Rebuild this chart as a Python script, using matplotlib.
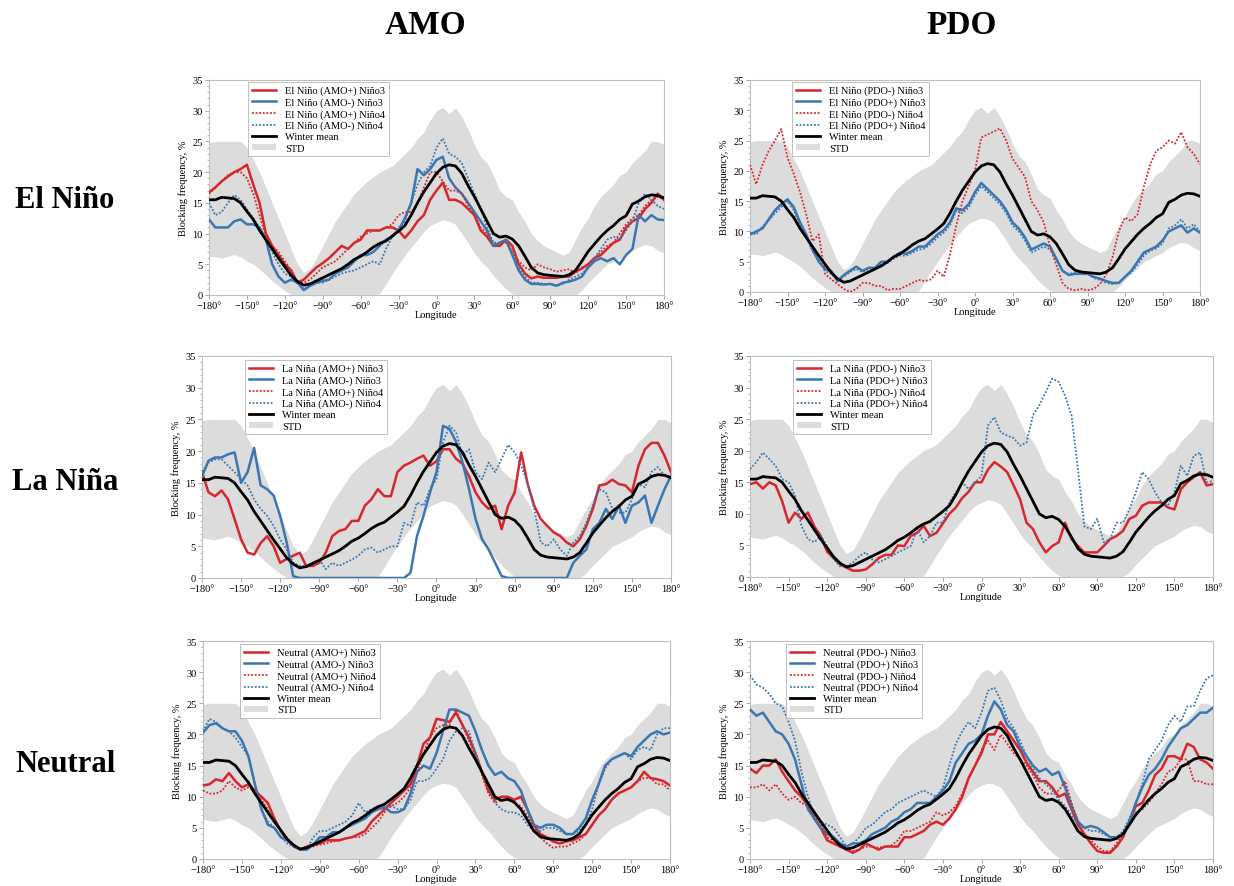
import numpy as np
import matplotlib
matplotlib.use('Agg')
import matplotlib.pyplot as plt
from matplotlib.lines import Line2D
from matplotlib.patches import Patch
from matplotlib.ticker import MultipleLocator, FuncFormatter

plt.rcParams['font.family'] = ['Liberation Serif', 'DejaVu Serif']

# ---------------- data ----------------
longitude = np.arange(-180, 181, 5)

winter_mean = [15.5, 15.5, 15.9, 15.8, 15.7, 15.0, 13.6, 12.3, 10.5, 9.0, 7.5, 6.0,
               4.6, 3.2, 2.2, 1.6, 1.8, 2.3, 2.8, 3.3, 3.8, 4.3, 5.0, 5.8,
               6.3, 7.0, 7.8, 8.4, 8.8, 9.6, 10.4, 11.3, 13.0, 15.0, 16.8, 18.3,
               19.8, 20.8, 21.2, 21.0, 19.8, 17.8, 16.0, 14.0, 12.0, 10.0, 9.4, 9.6,
               9.1, 8.0, 6.3, 4.5, 3.6, 3.3, 3.2, 3.1, 3.0, 3.3, 4.0, 5.5,
               7.1, 8.3, 9.5, 10.5, 11.3, 12.3, 12.9, 14.8, 15.3, 16.0, 16.3, 16.2,
               15.8]
std_upper = [24.8, 25.0, 25.0, 25.0, 25.0, 25.0, 24.0, 22.0, 20.0, 17.5, 15.0, 12.5,
             10.0, 7.5, 5.0, 3.7, 4.3, 6.0, 8.0, 10.0, 12.0, 13.5, 15.0, 16.5,
             17.5, 18.5, 19.2, 20.0, 20.5, 21.0, 22.0, 23.0, 24.0, 25.5, 26.5, 28.5,
             30.0, 30.5, 29.5, 30.5, 29.0, 27.0, 24.5, 22.5, 21.5, 19.5, 17.0, 16.0,
             15.5, 13.5, 12.0, 10.0, 8.8, 8.0, 7.5, 7.0, 6.5, 7.0, 9.0, 11.0,
             12.5, 14.5, 16.0, 17.0, 18.0, 19.5, 20.0, 21.5, 22.5, 23.5, 25.0, 25.0,
             24.5]
std_lower = [6.3, 6.2, 6.0, 6.3, 6.6, 6.2, 5.5, 5.0, 4.2, 3.3, 2.3, 1.5,
             0.7, 0.1, 0.0, 0.0, 0.0, 0.0, 0.0, 0.0, 0.0, 0.0, 0.0, 0.0,
             0.0, 0.0, 0.0, 0.2, 1.8, 3.5, 5.0, 6.5, 7.8, 9.0, 10.3, 11.3,
             11.8, 12.2, 12.0, 11.5, 10.0, 8.5, 6.8, 5.5, 4.5, 3.2, 2.0, 1.0,
             0.2, 0.0, 0.0, 0.0, 0.0, 0.0, 0.0, 0.0, 0.0, 0.0, 0.0, 0.8,
             2.0, 3.0, 4.0, 5.0, 5.5, 6.0, 6.5, 7.3, 7.8, 8.2, 8.0, 7.3,
             6.8]

# El Nino, AMO
amo_en_pos_n3 = [16.7, 17.5, 18.5, 19.3, 20.0, 20.5, 21.2, 18.0, 15.0, 10.0, 8.0, 6.5,
                 5.0, 4.0, 2.0, 2.5, 3.5, 4.5, 5.2, 6.0, 7.0, 8.0, 7.5, 8.5,
                 9.0, 10.5, 10.5, 10.5, 11.0, 11.0, 10.5, 9.3, 10.5, 12.0, 13.0, 15.5,
                 17.0, 18.3, 15.5, 15.5, 15.0, 14.0, 13.0, 10.5, 9.5, 8.0, 8.0, 9.0,
                 8.0, 5.0, 3.5, 2.7, 3.0, 2.8, 2.8, 2.8, 3.0, 3.0, 3.8, 4.3,
                 5.0, 6.0, 6.5, 7.5, 8.5, 9.0, 11.0, 12.0, 12.5, 14.0, 15.0, 16.5,
                 15.5]
amo_en_neg_n3 = [12.3, 11.0, 11.0, 11.0, 12.0, 12.3, 11.5, 11.5, 11.0, 9.0, 5.0, 3.0,
                 2.0, 2.5, 2.0, 0.8, 1.5, 2.0, 2.3, 2.5, 3.5, 4.0, 4.5, 5.5,
                 6.5, 6.5, 7.0, 8.0, 9.0, 9.5, 10.5, 12.5, 15.0, 20.5, 19.5, 20.5,
                 22.0, 22.5, 19.0, 17.5, 16.5, 15.0, 13.5, 12.0, 10.5, 8.0, 8.5, 9.0,
                 6.5, 4.0, 2.5, 1.8, 1.8, 1.7, 1.8, 1.5, 2.0, 2.2, 2.5, 3.0,
                 4.5, 5.5, 6.0, 5.5, 6.0, 5.0, 6.5, 7.5, 13.0, 12.0, 13.0, 12.3,
                 12.2]
amo_en_pos_n4 = [16.5, 17.5, 18.5, 19.5, 20.0, 20.0, 19.0, 16.5, 13.0, 9.5, 8.0, 7.0,
                 5.5, 4.0, 2.0, 2.0, 2.5, 3.5, 4.5, 5.0, 5.5, 6.5, 7.5, 8.5,
                 9.5, 10.0, 10.5, 10.5, 11.0, 11.5, 13.0, 13.5, 13.5, 15.0, 17.5, 20.0,
                 20.0, 18.5, 17.0, 17.0, 16.5, 14.5, 13.0, 11.0, 10.0, 8.5, 8.5, 8.5,
                 7.0, 5.5, 4.5, 4.0, 5.0, 4.5, 4.2, 3.8, 4.0, 4.2, 3.5, 4.5,
                 5.0, 6.0, 7.0, 8.0, 8.5, 10.0, 11.5, 12.5, 13.0, 14.5, 15.5, 16.0,
                 15.5]
amo_en_neg_n4 = [15.0, 13.0, 13.5, 15.0, 16.3, 15.5, 14.0, 12.5, 11.0, 9.0, 7.0, 5.0,
                 3.5, 3.0, 2.0, 1.0, 1.5, 2.0, 2.0, 2.5, 3.0, 3.5, 3.8, 4.0,
                 4.5, 5.0, 5.5, 5.0, 7.5, 9.5, 11.0, 12.0, 15.0, 18.0, 20.0, 21.0,
                 24.0, 25.5, 23.0, 22.5, 21.5, 19.0, 16.5, 14.0, 11.0, 8.5, 8.5, 9.0,
                 7.0, 4.5, 3.0, 2.0, 2.0, 1.8, 1.8, 1.5, 1.8, 2.5, 3.0, 3.5,
                 4.5, 6.0, 7.5, 9.0, 9.5, 9.0, 10.5, 12.0, 15.0, 16.5, 15.5, 14.5,
                 14.0]

# El Nino, PDO
pdo_en_neg_n3 = []
pdo_en_pos_n3 = [9.5, 10.0, 10.5, 12.0, 13.5, 14.5, 15.3, 14.0, 11.5, 9.5, 7.0, 5.0,
                 3.8, 3.5, 1.8, 2.8, 3.5, 4.2, 3.5, 4.0, 4.0, 5.0, 5.0, 5.8,
                 6.5, 6.3, 6.8, 7.5, 7.5, 8.5, 9.5, 10.2, 11.5, 13.8, 13.5, 14.5,
                 16.5, 18.0, 17.0, 16.0, 15.0, 13.5, 11.5, 10.5, 9.0, 7.0, 7.5, 8.0,
                 7.5, 5.5, 3.5, 2.8, 3.0, 3.0, 3.0, 2.5, 2.2, 1.8, 1.5, 1.5,
                 2.5, 3.5, 5.0, 6.5, 7.0, 7.5, 8.5, 10.0, 10.5, 11.0, 9.8, 10.5,
                 9.8]
pdo_en_neg_n4 = [21.0, 17.8, 21.0, 23.3, 25.0, 26.9, 22.2, 19.5, 16.5, 12.8, 8.4, 9.5,
                 3.0, 2.1, 1.3, 0.5, 0.0, 0.5, 1.5, 1.5, 1.0, 1.0, 0.3, 0.5,
                 0.5, 1.0, 1.5, 2.0, 1.8, 2.1, 3.5, 2.5, 6.2, 11.0, 15.0, 17.5,
                 20.0, 25.5, 26.0, 26.5, 27.0, 25.0, 22.0, 20.5, 19.0, 15.0, 13.5, 11.5,
                 7.5, 4.5, 1.5, 0.5, 0.3, 0.5, 0.3, 0.5, 1.3, 2.9, 5.7, 10.0,
                 12.3, 11.7, 12.8, 17.3, 21.0, 23.3, 23.9, 25.0, 24.5, 26.4, 23.9, 22.8,
                 21.1]
pdo_en_pos_n4 = [9.8, 9.5, 10.8, 11.8, 13.0, 14.0, 15.0, 13.5, 11.0, 9.0, 6.8, 5.5,
                 3.5, 3.0, 2.0, 2.5, 3.3, 3.8, 3.3, 3.8, 4.0, 4.5, 4.8, 5.5,
                 6.0, 6.0, 6.5, 7.0, 7.2, 8.0, 9.0, 9.8, 11.0, 13.5, 13.0, 14.0,
                 16.0, 17.5, 16.5, 15.5, 14.5, 13.0, 11.0, 10.0, 8.5, 6.5, 7.0, 7.5,
                 7.0, 5.5, 3.5, 3.0, 3.2, 3.2, 3.0, 2.3, 2.0, 1.5, 1.3, 1.5,
                 2.5, 3.2, 4.5, 6.0, 6.8, 7.2, 8.0, 10.5, 11.0, 12.0, 10.5, 11.2,
                 10.0]

# La Nina, AMO
amo_ln_pos_n3 = [16.7, 13.5, 12.9, 13.8, 12.4, 9.3, 6.1, 4.0, 3.7, 5.5, 6.6, 5.0,
                 2.4, 3.0, 3.5, 4.0, 1.9, 1.9, 2.4, 4.0, 6.6, 7.4, 7.7, 9.0,
                 9.0, 11.4, 12.4, 14.0, 12.9, 12.9, 16.7, 17.7, 18.2, 18.8, 19.3, 17.7,
                 18.4, 20.3, 20.3, 18.8, 18.0, 16.0, 13.5, 11.9, 10.9, 11.4, 7.7, 11.4,
                 13.5, 19.8, 14.8, 11.4, 9.3, 8.2, 7.2, 6.6, 5.6, 5.0, 6.1, 8.2,
                 10.9, 14.6, 14.8, 15.5, 14.8, 14.6, 13.5, 17.7, 20.3, 21.3, 21.3, 19.3,
                 16.7]
amo_ln_neg_n3 = [16.0, 18.5, 19.0, 19.0, 19.5, 19.8, 15.0, 16.7, 20.5, 14.6, 14.0, 13.0,
                 9.8, 5.6, 0.3, 0.0, 0.0, 0.0, 0.0, 0.0, 0.0, 0.0, 0.0, 0.0,
                 0.0, 0.0, 0.0, 0.0, 0.0, 0.0, 0.0, 0.0, 0.8, 6.6, 9.8, 13.5,
                 16.7, 24.0, 23.5, 21.5, 18.2, 14.0, 9.3, 6.1, 4.5, 2.4, 0.3, 0.0,
                 0.0, 0.0, 0.0, 0.0, 0.0, 0.0, 0.0, 0.0, 0.0, 2.4, 3.5, 4.5,
                 7.7, 8.7, 10.9, 9.3, 11.4, 8.7, 11.4, 11.9, 13.0, 8.7, 11.4, 14.0,
                 16.1]
amo_ln_pos_n4 = []
amo_ln_neg_n4 = [16.7, 18.2, 18.7, 18.7, 17.7, 16.7, 15.6, 14.6, 12.4, 10.9, 9.8, 8.2,
                 6.1, 4.5, 2.4, 1.9, 1.9, 2.4, 2.9, 1.4, 2.4, 1.9, 2.4, 2.9,
                 3.5, 4.5, 4.8, 4.0, 4.5, 5.0, 5.0, 8.7, 8.2, 11.9, 11.4, 14.0,
                 15.6, 21.4, 24.0, 23.0, 19.3, 20.3, 16.7, 15.6, 18.2, 16.7, 18.8, 21.0,
                 19.8, 17.7, 14.8, 10.9, 5.6, 5.0, 6.1, 4.5, 3.5, 5.6, 6.6, 8.7,
                 11.4, 14.0, 13.5, 10.9, 10.3, 10.3, 12.4, 14.8, 14.3, 16.7, 17.5, 16.1,
                 16.1]

# La Nina, PDO
pdo_ln_neg_n3 = [14.7, 15.0, 14.0, 15.0, 14.5, 12.0, 8.6, 10.2, 9.2, 10.2, 8.0, 6.5,
                 4.0, 3.0, 2.0, 1.5, 1.0, 1.0, 1.2, 2.0, 3.0, 3.5, 3.5, 5.0,
                 4.9, 6.5, 7.0, 8.1, 6.5, 7.0, 8.5, 10.0, 11.0, 12.5, 13.5, 15.0,
                 15.0, 17.0, 18.2, 17.5, 16.6, 14.5, 12.3, 8.6, 7.6, 5.5, 3.9, 4.9,
                 5.5, 8.6, 6.0, 4.9, 3.9, 3.9, 3.9, 4.9, 6.0, 6.5, 7.3, 9.2,
                 9.7, 11.3, 11.8, 11.8, 11.8, 11.0, 10.7, 13.9, 15.0, 15.8, 16.6, 14.5,
                 14.7]
pdo_ln_pos_n3 = []
pdo_ln_neg_n4 = []
pdo_ln_pos_n4 = [17.1, 18.2, 19.7, 18.7, 17.6, 15.5, 15.0, 12.9, 8.1, 6.0, 5.5, 6.5,
                 4.9, 2.8, 1.7, 1.7, 2.3, 3.3, 3.9, 2.8, 2.3, 2.8, 3.3, 3.9,
                 4.4, 4.9, 7.6, 5.5, 6.5, 8.6, 8.6, 11.8, 13.4, 15.0, 13.9, 15.0,
                 16.0, 24.0, 25.3, 22.9, 22.4, 22.0, 20.8, 21.3, 25.6, 27.2, 29.3, 31.4,
                 30.9, 28.7, 25.6, 17.0, 8.0, 7.6, 9.2, 5.5, 6.0, 8.6, 8.6, 10.7,
                 13.4, 16.6, 15.5, 13.4, 11.8, 11.3, 13.4, 17.6, 16.0, 19.2, 19.7, 15.0,
                 15.2]

# Neutral, AMO
amo_neu_pos_n3 = [11.8, 12.0, 12.8, 12.5, 13.8, 12.5, 11.5, 12.0, 11.0, 10.0, 9.0, 6.5,
                  4.5, 3.0, 2.2, 1.5, 2.0, 2.3, 2.5, 3.0, 3.0, 3.0, 3.3, 3.5,
                  4.0, 4.5, 6.0, 7.0, 8.0, 9.0, 10.0, 11.0, 12.0, 15.0, 18.5, 19.5,
                  22.5, 22.3, 22.0, 23.5, 21.5, 19.5, 17.0, 14.0, 11.0, 9.5, 10.0, 10.0,
                  9.5, 10.0, 8.0, 5.5, 4.0, 3.5, 2.8, 2.5, 2.8, 3.0, 3.5, 4.0,
                  5.5, 7.0, 8.0, 9.5, 10.5, 11.0, 11.5, 12.5, 14.0, 13.0, 12.8, 12.5,
                  11.8]
amo_neu_neg_n3 = [20.3, 21.5, 21.8, 21.0, 20.5, 20.5, 19.0, 16.5, 12.0, 8.0, 5.5, 5.0,
                  3.5, 3.0, 2.0, 1.5, 1.5, 2.3, 3.5, 3.5, 4.3, 4.3, 5.0, 5.5,
                  6.0, 6.5, 7.5, 8.0, 8.3, 7.5, 7.5, 8.0, 10.5, 14.0, 15.0, 14.5,
                  17.0, 20.5, 24.0, 24.0, 23.5, 23.0, 20.5, 17.5, 15.0, 13.5, 14.0, 13.0,
                  12.5, 11.0, 8.0, 5.5, 5.0, 5.5, 5.5, 5.0, 4.0, 4.0, 5.0, 6.5,
                  9.5, 12.0, 15.0, 16.0, 16.5, 17.0, 16.5, 18.0, 19.0, 20.0, 20.5, 20.0,
                  20.3]
amo_neu_pos_n4 = [11.0, 10.5, 10.5, 11.0, 12.5, 11.5, 11.0, 11.5, 11.0, 9.5, 8.0, 6.0,
                  4.5, 3.0, 2.0, 1.5, 2.0, 2.0, 2.3, 2.5, 2.8, 3.0, 3.3, 3.5,
                  3.5, 4.0, 5.0, 6.0, 7.5, 8.5, 9.0, 10.0, 11.5, 14.0, 17.0, 19.5,
                  21.0, 21.5, 21.5, 24.0, 21.5, 19.0, 16.5, 13.5, 10.5, 9.0, 9.5, 9.5,
                  9.0, 8.5, 7.0, 5.0, 3.5, 2.5, 1.8, 2.0, 2.0, 2.5, 3.0, 4.0,
                  5.5, 7.0, 8.0, 9.5, 10.5, 11.0, 11.5, 12.5, 13.0, 13.0, 12.0, 12.0,
                  11.0]
amo_neu_neg_n4 = [20.5, 22.5, 22.0, 21.0, 20.5, 19.5, 18.0, 16.5, 12.0, 8.0, 6.0, 5.0,
                  3.5, 2.5, 2.0, 1.5, 1.5, 3.5, 4.5, 4.5, 5.0, 5.5, 6.0, 7.0,
                  9.0, 7.5, 8.0, 8.5, 8.5, 8.5, 8.0, 8.0, 9.5, 12.5, 12.5, 13.0,
                  14.5, 16.0, 19.0, 20.5, 21.0, 20.5, 17.0, 14.0, 12.0, 9.0, 8.0, 7.5,
                  7.5, 7.0, 5.5, 4.5, 4.5, 5.0, 5.0, 4.5, 4.0, 4.0, 4.5, 5.5,
                  8.0, 12.0, 14.5, 16.0, 16.5, 17.0, 16.0, 17.5, 18.0, 17.5, 20.0, 21.0,
                  21.0]

# Neutral, PDO
pdo_neu_neg_n3 = [14.5, 13.8, 15.0, 15.0, 16.0, 14.0, 12.5, 11.0, 10.0, 8.5, 6.5, 5.0,
                  3.0, 2.5, 2.0, 1.5, 1.0, 1.5, 2.5, 2.0, 1.5, 2.0, 2.0, 2.0,
                  3.5, 3.5, 4.0, 4.5, 5.5, 6.0, 5.5, 6.5, 8.0, 10.0, 13.0, 15.0,
                  17.0, 20.0, 20.0, 22.0, 20.5, 19.0, 17.5, 15.5, 14.0, 12.5, 12.5, 11.5,
                  10.0, 10.5, 8.0, 5.5, 4.0, 2.5, 1.3, 1.0, 1.0, 2.0, 3.5, 6.0,
                  8.5, 9.0, 11.0, 13.5, 14.5, 16.5, 16.5, 16.0, 18.5, 18.0, 16.0, 15.5,
                  14.5]
pdo_neu_pos_n3 = [24.0, 23.0, 23.5, 22.0, 20.5, 20.0, 18.5, 16.0, 12.0, 8.0, 6.5, 5.0,
                  4.0, 3.5, 2.5, 2.0, 2.5, 2.5, 3.0, 4.0, 4.5, 5.0, 6.0, 6.5,
                  7.5, 8.0, 9.0, 9.0, 9.0, 10.0, 11.0, 12.5, 15.5, 17.0, 18.5, 19.0,
                  20.0, 23.0, 25.3, 24.0, 21.5, 20.5, 18.0, 16.5, 15.0, 14.0, 14.5, 13.5,
                  14.0, 11.5, 8.5, 6.0, 5.0, 5.3, 5.0, 4.3, 3.5, 3.5, 4.0, 6.0,
                  9.0, 11.5, 13.5, 14.5, 16.0, 18.0, 19.5, 21.0, 21.5, 22.5, 23.5, 23.5,
                  24.3]
pdo_neu_neg_n4 = [11.5, 11.5, 12.0, 11.0, 12.0, 10.5, 9.5, 10.0, 9.0, 8.5, 7.0, 5.5,
                  3.5, 3.0, 2.0, 1.5, 1.3, 1.5, 2.0, 2.0, 1.8, 2.0, 2.2, 3.0,
                  4.5, 4.5, 5.0, 5.5, 6.0, 7.5, 7.0, 7.5, 8.5, 10.5, 13.0, 15.0,
                  17.5, 19.0, 17.5, 20.0, 18.5, 17.0, 16.0, 15.0, 13.5, 11.5, 10.5, 10.5,
                  11.0, 12.5, 9.0, 6.0, 4.0, 3.0, 2.0, 1.3, 1.2, 2.5, 4.0, 5.5,
                  7.5, 8.0, 9.0, 10.5, 12.0, 14.0, 14.5, 16.0, 16.0, 12.5, 12.5, 12.0,
                  12.0]
pdo_neu_pos_n4 = [29.5, 28.0, 27.5, 26.5, 25.0, 24.5, 22.0, 19.0, 14.0, 10.0, 7.0, 6.0,
                  5.5, 5.0, 3.5, 2.0, 2.5, 3.5, 5.0, 5.5, 6.5, 7.5, 8.0, 9.0,
                  9.5, 10.0, 10.5, 11.0, 10.5, 10.0, 11.5, 15.0, 18.5, 20.5, 22.0, 21.0,
                  23.5, 27.0, 27.5, 25.5, 22.5, 21.0, 19.0, 16.5, 14.5, 13.0, 12.0, 11.0,
                  9.5, 8.5, 7.0, 5.5, 5.0, 4.5, 4.5, 4.0, 3.5, 3.5, 4.5, 6.5,
                  9.0, 12.0, 16.0, 17.5, 19.0, 21.5, 23.0, 22.0, 24.5, 24.5, 27.0, 29.0,
                  29.5]

col_titles = ['AMO', 'PDO']
row_titles = ['El Niño', 'La Niña', 'Neutral']
x_ticks = [-180, -150, -120, -90, -60, -30, 0, 30, 60, 90, 120, 150, 180]

# ---------------- styling ----------------
RED = '#d7262c'
BLUE = '#3a77b0'
GREY = '#dcdcdc'
W, H = 1234, 887

fig = plt.figure(figsize=(W / 100, H / 100), dpi=100)


def rect(l, r, t, b):
    return [l / W, 1 - b / H, (r - l) / W, (b - t) / H]


panels = [
    # (axes rect px, legend anchor px, prefix, phase, four series)
    ((209, 664, 81, 296), (248, 83), 'El Niño', 'AMO', '+', '-',
     [amo_en_pos_n3, amo_en_neg_n3, amo_en_pos_n4, amo_en_neg_n4]),
    ((750, 1200, 81, 293), (792, 83), 'El Niño', 'PDO', '-', '+',
     [pdo_en_neg_n3, pdo_en_pos_n3, pdo_en_neg_n4, pdo_en_pos_n4]),
    ((202, 671, 357, 579), (245, 361), 'La Niña', 'AMO', '+', '-',
     [amo_ln_pos_n3, amo_ln_neg_n3, amo_ln_pos_n4, amo_ln_neg_n4]),
    ((750, 1213, 357, 578), (793, 361), 'La Niña', 'PDO', '-', '+',
     [pdo_ln_neg_n3, pdo_ln_pos_n3, pdo_ln_neg_n4, pdo_ln_pos_n4]),
    ((203, 670, 642, 860), (240, 645), 'Neutral', 'AMO', '+', '-',
     [amo_neu_pos_n3, amo_neu_neg_n3, amo_neu_pos_n4, amo_neu_neg_n4]),
    ((750, 1213, 642, 860), (786, 645), 'Neutral', 'PDO', '-', '+',
     [pdo_neu_neg_n3, pdo_neu_pos_n3, pdo_neu_neg_n4, pdo_neu_pos_n4]),
]

deg_fmt = FuncFormatter(lambda v, p: f"{int(v)}°".replace('-', '\u2212'))
DOT = (0, (1, 1))

for (r, anchor, phase, idx, s1, s2, series) in panels:
    ax = fig.add_axes(rect(*r))
    ax.fill_between(longitude, std_lower, std_upper, color=GREY, lw=0, zorder=1)
    styles = [(RED, '-', 1.8), (BLUE, '-', 1.8), (RED, DOT, 1.3), (BLUE, DOT, 1.3)]
    for data, (c, ls, lw) in zip(series, styles):
        if len(data):
            ax.plot(longitude, data, color=c, ls=ls, lw=lw, zorder=3)
    ax.plot(longitude, winter_mean, color='black', lw=2.0, zorder=4)
    ax.set_xlim(-180, 180)
    ax.set_ylim(0, 35)
    ax.set_xticks(x_ticks)
    ax.xaxis.set_major_formatter(deg_fmt)
    ax.yaxis.set_major_locator(MultipleLocator(5))
    ax.yaxis.set_minor_locator(MultipleLocator(1))
    ax.tick_params(axis='both', labelsize=7.5, length=3, width=0.6, color='#999999', pad=1.5)
    ax.tick_params(axis='y', which='minor', length=1.5, width=0.5, color='#999999')
    for sp in ax.spines.values():
        sp.set_color('#c0c0c0')
        sp.set_linewidth(0.8)
    ax.set_xlabel('Longitude', fontsize=7.5, labelpad=0)
    ax.set_ylabel('Blocking frequency, %', fontsize=7.5, labelpad=3)

    handles = [
        Line2D([], [], color=RED, lw=1.8),
        Line2D([], [], color=BLUE, lw=1.8),
        Line2D([], [], color=RED, lw=1.3, ls=DOT),
        Line2D([], [], color=BLUE, lw=1.3, ls=DOT),
        Line2D([], [], color='black', lw=2.0),
        Patch(facecolor=GREY, edgecolor='none'),
    ]
    labels = [
        f'{phase} ({idx}{s1}) Niño3',
        f'{phase} ({idx}{s2}) Niño3',
        f'{phase} ({idx}{s1}) Niño4',
        f'{phase} ({idx}{s2}) Niño4',
        'Winter mean',
        'STD',
    ]
    leg = ax.legend(handles, labels, loc='upper left',
                    bbox_to_anchor=(anchor[0] / W, 1 - anchor[1] / H),
                    bbox_transform=fig.transFigure, borderaxespad=0,
                    fontsize=7.5, frameon=True, fancybox=False,
                    handlelength=2.3, handleheight=0.6, handletextpad=0.9,
                    labelspacing=0.2, borderpad=0.35)
    leg.get_frame().set_edgecolor('#b0b0b0')
    leg.get_frame().set_linewidth(0.7)

fig.text(425 / W, 1 - 26 / H, col_titles[0], fontsize=24, fontweight='bold',
         ha='center', va='center')
fig.text(962 / W, 1 - 26 / H, col_titles[1], fontsize=24, fontweight='bold',
         ha='center', va='center')
for yy, t in zip([201, 482, 765], row_titles):
    fig.text(65 / W, 1 - yy / H, t, fontsize=22, fontweight='bold',
             ha='center', va='center')

fig.savefig('out.png', dpi=100)
